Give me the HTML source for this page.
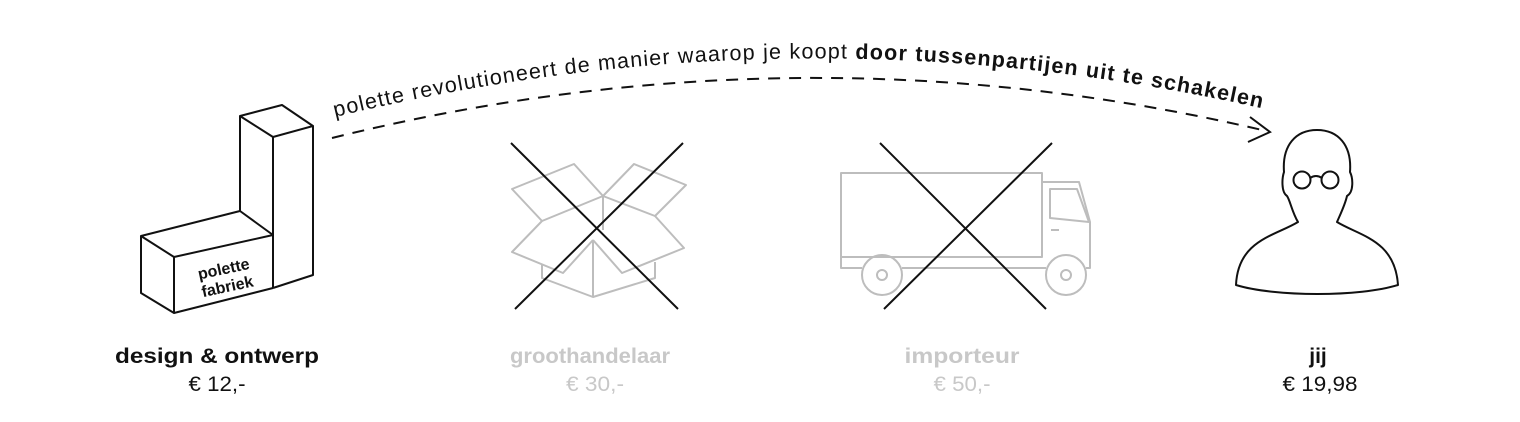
<!DOCTYPE html>
<html><head><meta charset="utf-8"><style>
html,body{margin:0;padding:0;background:#fff;}
svg{display:block;font-family:"Liberation Sans",sans-serif;}
</style></head><body>
<svg width="1520" height="422" viewBox="0 0 1520 422" xmlns="http://www.w3.org/2000/svg">
<defs><path id="arc" d="M335,117 Q800,4 1265,109"/></defs>
<text font-size="21.5" fill="#111" textLength="935" lengthAdjust="spacing"><textPath href="#arc">polette revolutioneert de manier waarop je koopt <tspan font-weight="bold">door tussenpartijen uit te schakelen</tspan></textPath></text>
<path d="M332,138 Q800,22 1262,130" fill="none" stroke="#111" stroke-width="2" stroke-dasharray="12,9"/>
<path d="M1250,117 L1270,132 L1248,142" fill="none" stroke="#111" stroke-width="2"/>

<!-- factory -->
<g fill="none" stroke="#111" stroke-width="2" stroke-linejoin="round">
<path d="M240,116 L282,105 L313,126 L273,137 Z"/>
<path d="M240,116 L240,211 M273,137 L273,288 M313,126 L313,275 L273,288"/>
<path d="M141,236 L240,211 L273,235 L174,257 Z"/>
<path d="M141,236 L141,293 L174,313 L273,288 M174,257 L174,313"/>
</g>
<text x="226" y="274" font-size="16" font-weight="bold" text-anchor="middle" transform="rotate(-12 226 280)" fill="#111">polette</text>
<text x="226" y="292" font-size="16" font-weight="bold" text-anchor="middle" transform="rotate(-12 226 280)" fill="#111">fabriek</text>

<!-- box -->
<g fill="none" stroke="#bdbdbd" stroke-width="2" stroke-linejoin="round">
<path d="M512,189 L574,164 L603,196 L542,221 Z"/>
<path d="M603,196 L634,164 L686,185 L655,216 Z"/>
<path d="M542,221 L512,252 L563,273 L593,240 M655,216 L684,248 L622,273 L593,240"/>
<path d="M542,264 L542,278 L593,297 L655,278 L655,262 M593,240 L593,297 M603,196 L603,230"/>
</g>
<g stroke="#111" stroke-width="2"><path d="M511,143 L678,309 M683,143 L515,309"/></g>

<!-- truck -->
<g fill="none" stroke="#bdbdbd" stroke-width="2" stroke-linejoin="round">
<rect x="841" y="173" width="201" height="84"/>
<path d="M841,257 L841,268 L862,268 M902,268 L1046,268 M1086,268 L1090,268 L1090,222 L1079,182 L1042,182"/>
<path d="M1050,189 L1077,189 L1089,222 L1050,218 Z M1051,230 L1059,230"/>
<circle cx="882" cy="275" r="20"/><circle cx="882" cy="275" r="5"/>
<circle cx="1066" cy="275" r="20"/><circle cx="1066" cy="275" r="5"/>
</g>
<g stroke="#111" stroke-width="2"><path d="M880,143 L1046,309 M1052,143 L884,309"/></g>

<!-- person -->
<g fill="none" stroke="#111" stroke-width="2" stroke-linejoin="round">
<path d="M1298,222 C1292,212 1290,200 1287,196 C1281,192 1282,178 1284,172 C1282,145 1296,130 1317,130 C1338,130 1352,145 1350,172 C1353,178 1354,192 1347,196 C1345,205 1340,215 1337,222 C1360,236 1395,240 1398,285 C1360,297 1275,297 1236,285 C1238,240 1275,236 1298,222 Z"/>
<circle cx="1302" cy="180" r="8.5"/><circle cx="1330" cy="180" r="8.5"/>
<path d="M1310,178 Q1316,174 1322,178"/>
</g>

<!-- labels -->
<g font-size="21" text-anchor="middle" lengthAdjust="spacingAndGlyphs">
<text x="217" y="363" font-weight="bold" fill="#111" textLength="204" lengthAdjust="spacingAndGlyphs">design &amp; ontwerp</text>
<text x="217" y="391" fill="#111" textLength="57" lengthAdjust="spacingAndGlyphs">€ 12,-</text>
<text x="590" y="363" font-weight="bold" fill="#c8c8c8" textLength="160" lengthAdjust="spacingAndGlyphs">groothandelaar</text>
<text x="595" y="391" fill="#c8c8c8" textLength="58" lengthAdjust="spacingAndGlyphs">€ 30,-</text>
<text x="962" y="363" font-weight="bold" fill="#c8c8c8" textLength="115" lengthAdjust="spacingAndGlyphs">importeur</text>
<text x="962" y="391" fill="#c8c8c8" textLength="57" lengthAdjust="spacingAndGlyphs">€ 50,-</text>
<text x="1318" y="363" font-weight="bold" fill="#111">jij</text>
<text x="1320" y="391" fill="#111" textLength="75" lengthAdjust="spacingAndGlyphs">€ 19,98</text>
</g>
</svg>
</body></html>
